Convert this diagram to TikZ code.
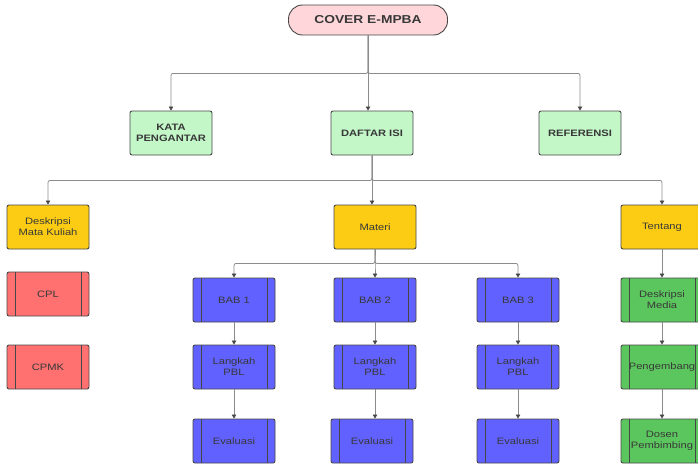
\documentclass[tikz,border=0pt]{standalone}
\usepackage{fontspec}
\setmainfont{Liberation Sans}[FakeStretch=1.2]
\usetikzlibrary{arrows.meta,positioning}

\definecolor{coverpink}{HTML}{FFD7DA}
\definecolor{mint}{HTML}{C3F7C8}
\definecolor{gold}{HTML}{FCCC14}
\definecolor{salmon}{HTML}{FF7171}
\definecolor{violet}{HTML}{6161FF}
\definecolor{leaf}{HTML}{5CC65E}
\definecolor{boxline}{HTML}{474747}
\definecolor{connline}{HTML}{8C8C8C}
\definecolor{txt}{HTML}{383838}

\tikzset{
  box/.style={draw=boxline,line width=0.9pt,rounded corners=2pt,minimum width=82pt,minimum height=44pt,
    inner sep=1pt,align=center,text=txt,font=\fontsize{9.3}{11}\selectfont},
  topbox/.style={box,fill=mint,font=\bfseries\fontsize{9.3}{10.5}\selectfont},
  yellowbox/.style={box,fill=gold},
  barbox/.style={box,path picture={
      \draw[boxline,line width=1pt]
        ([xshift=8pt]path picture bounding box.north west) -- ([xshift=8pt]path picture bounding box.south west)
        ([xshift=-8pt]path picture bounding box.north east) -- ([xshift=-8pt]path picture bounding box.south east);}},
  redbox/.style={barbox,fill=salmon},
  bluebox/.style={barbox,fill=violet},
  greenbox/.style={barbox,fill=leaf},
  cover/.style={box,fill=coverpink,minimum width=159pt,minimum height=30pt,rounded corners=14pt,
    font=\bfseries\fontsize{11.5}{13}\selectfont},
  conn/.style={draw=connline,line width=0.8pt,rounded corners=2pt,-{Triangle[width=4.5pt,length=4pt,color=boxline]}}
}

\begin{document}
\begin{tikzpicture}[x=1pt,y=-1pt]
\useasboundingbox (0,0) rectangle (698,463);

% top levels
\node[cover](cover) at (368,20){COVER E-MPBA};
\node[topbox](kata) at (171,133){KATA\\PENGANTAR};
\node[topbox](daftar) at (372,133){DAFTAR ISI};
\node[topbox](ref) at (580,133){REFERENSI};

\node[yellowbox](deskmk) at (48,227){Deskripsi\\Mata Kuliah};
\node[yellowbox](materi) at (375,227){Materi};
\node[yellowbox](tentang) at (662,227){Tentang};

% left column
\node[redbox](cpl) at (48,294){CPL};
\node[redbox](cpmk) at (48,367){CPMK};

% chapters
\foreach \x [count=\n] in {234,375,518} {
  \node[bluebox](bab\n) at (\x,300){BAB \n};
  \node[bluebox](langkah\n) at (\x,367){Langkah\\PBL};
}
\foreach \x [count=\n] in {234,372,518}
  \node[bluebox](eval\n) at (\x,441){Evaluasi};

% right column
\node[greenbox](deskmedia) at (662,300){Deskripsi\\Media};
\node[greenbox](pengembang) at (662,367){Pengembang};
\node[greenbox](dosen) at (662,441){Dosen\\Pembimbing};

% connectors
\draw[conn] (cover.south) -- ++(0,38) -| (kata.north);
\draw[conn] (cover.south) -- ++(0,38) -| (ref.north);
\draw[conn] (cover.south) -- (cover.south |- daftar.north);

\draw[conn] (daftar.south) -- ++(0,25) -| (deskmk.north);
\draw[conn] (daftar.south) -- ++(0,25) -| (tentang.north);
\draw[conn] (daftar.south) -- (daftar.south |- materi.north);

\foreach \n in {1,2,3} {
  \draw[conn] (materi.south) -- ++(0,14) -| (bab\n.north);
  \draw[conn] (bab\n.south) -- (langkah\n.north);
  \draw[conn] (langkah\n.south) -- (langkah\n.south |- eval\n.north);
}

\draw[conn] (tentang.south) -- (deskmedia.north);
\draw[conn] (deskmedia.south) -- (pengembang.north);
\draw[conn] (pengembang.south) -- (dosen.north);
\end{tikzpicture}
\end{document}
